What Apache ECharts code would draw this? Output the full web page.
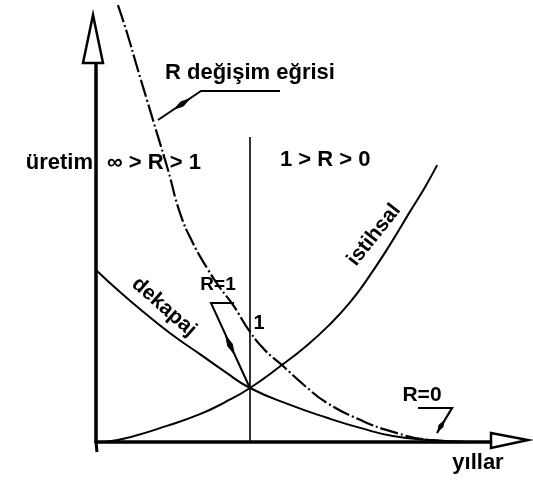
<!DOCTYPE html>
<html>
<head>
<meta charset="utf-8">
<script src="https://cdn.jsdelivr.net/npm/echarts@6/dist/echarts.min.js"></script>
<style>
  html, body { margin: 0; padding: 0; background: #fff; }
  #chart { width: 533px; height: 483px; }
</style>
</head>
<body>
<div id="chart"></div>
<script>
// Samples along each curve: [yıl, miktar]
const rCurve = [
  [0.53, 10.84], [0.75, 10.15], [0.99, 9.31], [1.23, 8.49], [1.47, 7.67],
  [1.74, 6.75], [2.03, 5.68], [2.34, 4.94], [2.71, 4.27], [3.00, 3.82],
  [3.31, 3.40], [3.72, 2.73], [4.08, 2.28], [4.49, 1.91], [5.05, 1.39],
  [5.58, 0.97], [6.38, 0.55], [7.17, 0.25], [8.07, 0.05], [9.03, 0.00]
];
const dekapaj = [
  [0.00, 4.27], [0.58, 3.72], [1.14, 3.23], [1.79, 2.70], [2.51, 2.18],
  [3.12, 1.74], [3.72, 1.34], [4.69, 0.92], [5.58, 0.60], [6.38, 0.35],
  [7.17, 0.15], [8.07, 0.05], [9.03, 0.00]
];
const istihsal = [
  [0.22, 0.00], [0.82, 0.12], [1.71, 0.40], [2.51, 0.69], [3.12, 0.99],
  [3.72, 1.34], [4.49, 1.91], [5.05, 2.36], [5.58, 2.85], [6.14, 3.47],
  [6.62, 4.14], [7.17, 5.01], [7.58, 5.71], [7.95, 6.33], [8.24, 6.87]
];
// Year where R = 1 (dekapaj meets istihsal) and the top of the divider
const rOneYear = 3.72;
const dividerTop = 7.57;

const FONT = 'Liberation Sans';
const ink = '#000';

function txt(text, x, y, size, opts) {
  opts = opts || {};
  return {
    type: 'text', x: x, y: y, z: 120, rotation: opts.rotation || 0,
    style: {
      text: text, fill: ink,
      font: (opts.weight || 'normal') + ' ' + size + 'px "' + FONT + '"',
      textAlign: opts.align || 'left', textVerticalAlign: 'middle'
    }
  };
}
function stroke(points, width) {
  return { type: 'polyline', z: 110, shape: { points: points },
           style: { stroke: ink, lineWidth: width || 2, fill: null } };
}
function blob(points) {
  return { type: 'polygon', z: 110, shape: { points: points },
           style: { fill: ink, stroke: ink, lineWidth: 1 } };
}

const chart = echarts.init(document.getElementById('chart'), null, { renderer: 'canvas' });

const axisCommon = {
  type: 'value', min: 0, max: 10,
  axisLine: { show: true, lineStyle: { color: ink, width: 3.5 } },
  axisTick: { show: false }, axisLabel: { show: false }, splitLine: { show: false }
};

chart.setOption({
  animation: false,
  backgroundColor: '#fff',
  grid: { left: 96, right: 23, top: 39, bottom: 41 },
  xAxis: axisCommon,
  yAxis: axisCommon,
  series: [
    {
      name: 'R değişim eğrisi', type: 'line', data: rCurve, showSymbol: false,
      smooth: 0.5, clip: false,
      lineStyle: { color: ink, width: 2.2, type: [18, 3, 2, 3] }
    },
    {
      name: 'dekapaj', type: 'line', data: dekapaj, showSymbol: false, smooth: 0.5,
      lineStyle: { color: ink, width: 2 },
      markLine: {
        silent: true, symbol: ['none', 'none'], label: { show: false },
        lineStyle: { color: ink, width: 1.6, type: 'solid' },
        data: [[{ coord: [rOneYear, 0] }, { coord: [rOneYear, dividerTop] }]]
      }
    },
    {
      name: 'istihsal', type: 'line', data: istihsal, showSymbol: false, smooth: 0.5,
      lineStyle: { color: ink, width: 2 }
    }
  ],
  graphic: [
    // hollow arrow heads on the axes
    { type: 'polygon', z: 115, shape: { points: [[93, 15], [83, 63], [103, 63]] },
      style: { fill: '#fff', stroke: ink, lineWidth: 2.5 } },
    { type: 'polygon', z: 115, shape: { points: [[491, 433], [528, 440], [491, 448]] },
      style: { fill: '#fff', stroke: ink, lineWidth: 2.5 } },
    // short overhang of the vertical axis below the origin
    stroke([[96, 442], [97, 452]], 3),

    // leader for the R curve caption
    stroke([[280, 91], [201, 91], [158, 120]], 2),
    blob([[174.5, 109], [183.4, 106.1], [189.5, 99], [180.6, 101.9]]),

    // pointer from "R=1" to the crossing point
    stroke([[234, 303], [211, 303], [249, 386]], 2),
    blob([[234.2, 354.1], [232.3, 344], [225.8, 335.9], [227.7, 346]]),

    // pointer under "R=0"
    stroke([[418, 408], [452, 408], [437, 433]], 2.2),
    blob([[437.9, 431.1], [442.9, 427.1], [444.1, 420.9], [439.1, 424.9]]),

    txt('R değişim eğrisi', 165, 73, 22, { weight: 'bold' }),
    txt('üretim', 93, 163, 22, { weight: 'bold', align: 'right' }),
    txt('∞ > R > 1', 107, 163, 22, { weight: 'bold' }),
    txt('1 > R > 0', 280, 160, 22, { weight: 'bold' }),
    txt('dekapaj', 164, 307, 21, { weight: 'bold', align: 'center', rotation: -0.72 }),
    txt('istihsal', 374, 235, 21, { weight: 'bold', align: 'center', rotation: 0.90 }),
    txt('R=1', 218, 285, 19, { weight: 'bold', align: 'center' }),
    txt('1', 259, 323, 20, { weight: 'bold', align: 'center' }),
    txt('R=0', 422, 395, 21, { weight: 'bold', align: 'center' }),
    txt('yıllar', 478, 463, 22, { weight: 'bold', align: 'center' })
  ]
});
</script>
</body>
</html>
